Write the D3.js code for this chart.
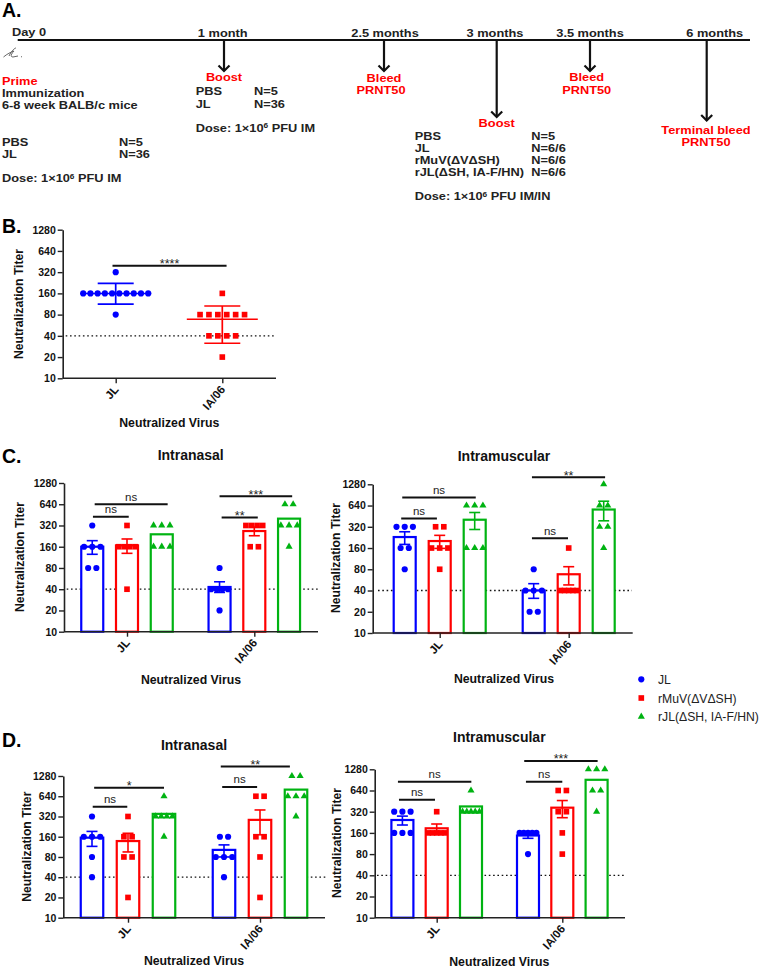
<!DOCTYPE html>
<html>
<head>
<meta charset="utf-8">
<script src="https://cdn.jsdelivr.net/npm/d3@7"></script>
<style>
    body { margin: 0; background: #fff; }
    text { font-family: "Liberation Sans", Arial, sans-serif; }
</style>
</head>
<body>
<svg id="fig" width="760" height="968"></svg>
<script>
// Shared labels
const viruses = ["JL", "IA/06"];
const seriesNames = ["JL", "rMuV(ΔVΔSH)", "rJL(ΔSH, IA-F/HN)"];
const titerTicks = [10, 20, 40, 80, 160, 320, 640, 1280];
const cutoff = 40;
const seriesColours = ["#0000ff", "#ff0000", "#00b312"];

// Panel B: individual titers, mean and SD per virus
const bPoints = [
    [320, 160, 160, 160, 160, 160, 160, 160, 160, 160, 160, 80],
    [160, 80, 80, 80, 80, 80, 80, 40, 40, 40, 40, 20]
];
const bMeans = [160, 69];
const bHigh = [222, 106];
const bLow = [113, 31.4];
const bSig = [{v: 0, a: -0.03, b: 1.04, level: 394, label: "****"}];

// Panels C and D: [virus][series] -> titers, and [virus][series] -> mean/SEM
const cnPoints = [
    [[320, 160, 160, 160, 80, 80], [320, 160, 160, 160, 160, 40], [320, 320, 320, 160, 160, 160]],
    [[80, 40, 40, 40, 40, 20], [320, 320, 320, 320, 160, 160], [640, 640, 320, 320, 320, 160]]
];
const cnMeans = [[160, 167, 240], [43, 267, 400]];
const cnHigh = [[195, 206, null], [51, 303, null]];
const cnLow = [[125, 129, null], [36, 229, null]];
const cnSig = [
    {v: 0, a: -0.93, b: 1.17, level: 640, label: "ns"},
    {v: 0, a: -0.98, b: 0.05, level: 426, label: "ns"},
    {v: 1, a: -1.0, b: 1.09, level: 830, label: "***"},
    {v: 1, a: -0.94, b: 0.1, level: 416, label: "**"}
];

const cmPoints = [
    [[320, 320, 320, 160, 160, 80], [320, 320, 160, 160, 160, 80], [640, 640, 640, 160, 160, 160]],
    [[80, 40, 40, 40, 20, 20], [160, 40, 40, 40, 40, 40], [1280, 640, 640, 320, 320, 160]]
];
const cmMeans = [[229, 201, 403], [40, 68, 562]];
const cmHigh = [[272, 242, 510], [50, 87, 737]];
const cmLow = [[180, 158, 293], [31, 48, 389]];
const cmSig = [
    {v: 0, a: -1.07, b: 1.03, level: 830, label: "ns"},
    {v: 0, a: -1.1, b: -0.08, level: 420, label: "ns"},
    {v: 1, a: -1.05, b: 1.04, level: 1610, label: "**"},
    {v: 1, a: -1.05, b: -0.02, level: 220, label: "ns"}
];

const dnPoints = [
    [[320, 160, 160, 160, 80, 40], [320, 160, 160, 80, 80, 20], [640, 320, 320, 320, 320, 160]],
    [[160, 160, 80, 80, 80, 40], [640, 640, 160, 160, 80, 20], [1280, 1280, 640, 640, 640, 320]]
];
const dnMeans = [[155, 138, 350], [102, 285, 803]];
const dnHigh = [[192, 180, null], [121, 400, null]];
const dnLow = [[115, 95, null], [80, 171, null]];
const dnSig = [
    {v: 0, a: -0.94, b: 1.0, level: 853, label: "*"},
    {v: 0, a: -0.98, b: -0.02, level: 446, label: "ns"},
    {v: 1, a: -1.09, b: 0.83, level: 1765, label: "**"},
    {v: 1, a: -1.05, b: -0.08, level: 882, label: "ns"}
];

const dmPoints = [
    [[320, 320, 320, 160, 160, 160], [320, 160, 160, 160, 160, 160], [640, 320, 320, 320, 320, 320]],
    [[160, 160, 160, 160, 160, 80], [640, 640, 320, 320, 160, 80], [1280, 1280, 1280, 640, 640, 320]]
];
const dmMeans = [[244, 186, 380], [147, 365, 908]];
const dmHigh = [[277, 214, null], [160, 461, null]];
const dmLow = [[207, 160, null], [134, 263, null]];
const dmSig = [
    {v: 0, a: -1.13, b: 1.01, level: 851, label: "ns"},
    {v: 0, a: -1.1, b: -0.05, level: 474, label: "ns"},
    {v: 1, a: -1.11, b: 1.03, level: 1680, label: "***"},
    {v: 1, a: -1.06, b: 0, level: 851, label: "ns"}
];

// Panel A timeline
const timeLabels = ["1 month", "2.5 months", "3 months", "3.5 months", "6 months"];

const svg = d3.select("#fig");
svg.append("rect").attr("width", 760).attr("height", 968).attr("fill", "#fff");

const markers = [
    d3.symbol().type(d3.symbolCircle).size(30)(),
    d3.symbol().type(d3.symbolSquare).size(32)(),
    d3.symbol().type(d3.symbolTriangle).size(22)()
];

/**
   Put a piece of text down
*/
function label(parent, x, y, str, opts = {}){
    return parent.append("text")
        .attr("x", x).attr("y", y)
        .attr("text-anchor", opts.anchor || "start")
        .attr("font-size", opts.size || 11)
        .attr("font-weight", opts.weight || "bold")
        .attr("fill", opts.colour || "#111")
        .text(str);
}

/**
   Draw the log2 axes, cutoff line, titles shared by all titer panels
*/
function frame(cfg){
    const g = svg.append("g");
    const y = d3.scaleLog().base(2).domain([10, 1280]).range([cfg.bottom, cfg.top]);
    const x = d3.scalePoint().domain(viruses).range(cfg.ticks);

    g.append("line")
        .attr("x1", cfg.dotted[0]).attr("x2", cfg.dotted[1])
        .attr("y1", y(cutoff)).attr("y2", y(cutoff))
        .attr("stroke", "#111").attr("stroke-width", 1.3)
        .attr("stroke-dasharray", "1.6 2.7");

    const marks = g.append("g");

    const yAxis = g.append("g")
        .attr("transform", `translate(${cfg.left},0)`)
        .call(d3.axisLeft(y).tickValues(titerTicks).tickFormat(d3.format("d")).tickSize(5).tickSizeOuter(0));
    const xAxis = g.append("g")
        .attr("transform", `translate(0,${cfg.bottom})`)
        .call(d3.axisBottom(x).tickSize(5).tickSizeOuter(0));
    xAxis.select(".domain").attr("d", `M${cfg.left},0H${cfg.right}`);

    g.selectAll(".domain").attr("stroke", "#222").attr("stroke-width", 1.6);
    g.selectAll(".tick line").attr("stroke", "#222").attr("stroke-width", 1.4);
    yAxis.selectAll("text")
        .attr("font-size", 10.5).attr("font-weight", "bold").attr("fill", "#111")
        .attr("font-family", "Liberation Sans").attr("dx", "0.1em");
    xAxis.selectAll("text")
        .attr("font-size", 11.5).attr("font-weight", "bold").attr("fill", "#111")
        .attr("font-family", "Liberation Sans")
        .attr("text-anchor", "end")
        .attr("dy", 0).attr("y", 0)
        .attr("transform", "translate(3,11.5) rotate(-50)");

    g.append("text")
        .attr("transform", `translate(${cfg.yLabel[0]},${cfg.yLabel[1]}) rotate(-90)`)
        .attr("text-anchor", "middle")
        .attr("font-size", 12.2).attr("font-weight", "bold").attr("fill", "#111")
        .text("Neutralization Titer");
    label(g, cfg.xLabel[0], cfg.xLabel[1], "Neutralized Virus", {anchor: "middle", size: 12.3});
    if (cfg.title){
        label(g, cfg.title[0], cfg.title[1], cfg.title[2], {anchor: "middle", size: 14});
    }
    return {marks, x, y};
}

/**
   Spread tied titers sideways around their column, as a prism scatter does
*/
function dodge(values, spacing, maxSpread){
    const rows = d3.groups(values, d => d);
    return rows.flatMap(([value, list]) => {
        const n = list.length;
        const gap = n > 1 ? Math.min(spacing, maxSpread / (n - 1)) : 0;
        return list.map((v, i) => ({value, dx: (i - (n - 1) / 2) * gap}));
    });
}

function whisker(parent, cx, y, high, low, capWidth, colour, width){
    if (high === null){ return; }
    const p = parent.append("g").attr("stroke", colour).attr("stroke-width", width).attr("fill", "none");
    p.append("line").attr("x1", cx).attr("x2", cx).attr("y1", y(high)).attr("y2", y(low));
    [high, low].forEach(v => {
        p.append("line")
            .attr("x1", cx - capWidth / 2).attr("x2", cx + capWidth / 2)
            .attr("y1", y(v)).attr("y2", y(v));
    });
}

function brackets(parent, sig, x, y, step){
    sig.forEach(s => {
        const cx = x(viruses[s.v]);
        const yy = y(s.level);
        parent.append("line")
            .attr("x1", cx + s.a * step).attr("x2", cx + s.b * step)
            .attr("y1", yy).attr("y2", yy)
            .attr("stroke", "#111").attr("stroke-width", 2);
        const isNs = s.label === "ns";
        label(parent, cx + (s.a + s.b) / 2 * step, isNs ? yy - 3.5 : yy + 2.5, s.label, {
            anchor: "middle", size: isNs ? 11.5 : 12.5, weight: "normal", colour: "#222"
        });
    });
}

function barPanel(cfg, points, means, high, low, sig){
    const {marks, x, y} = frame(cfg);
    const inner = d3.scalePoint().domain(seriesNames).range([-cfg.step, cfg.step]);

    viruses.forEach((virus, v) => {
        seriesNames.forEach((name, s) => {
            const cx = x(virus) + inner(name);
            marks.append("rect")
                .attr("x", cx - cfg.barWidth / 2).attr("width", cfg.barWidth)
                .attr("y", y(means[v][s])).attr("height", y(10) - y(means[v][s]))
                .attr("fill", "#fff")
                .attr("stroke", seriesColours[s]).attr("stroke-width", 2.2);
            marks.append("g").selectAll("path")
                .data(dodge(points[v][s], 8.2, 16.8))
                .join("path")
                .attr("d", markers[s])
                .attr("fill", seriesColours[s])
                .attr("transform", d => `translate(${cx + d.dx},${y(d.value)})`);
            whisker(marks, cx, y, high[v][s], low[v][s], 11, seriesColours[s], 1.6);
        });
    });
    brackets(marks, sig, x, y, cfg.step);
}

function scatterPanel(cfg){
    const {marks, x, y} = frame(cfg);
    viruses.forEach((virus, v) => {
        const cx = x(virus);
        marks.append("g").selectAll("path")
            .data(dodge(bPoints[v], 8.9, 65))
            .join("path")
            .attr("d", markers[v])
            .attr("fill", seriesColours[v])
            .attr("transform", d => `translate(${cx + d.dx},${y(d.value)})`);
        marks.append("line")
            .attr("x1", cx - 35.5).attr("x2", cx + 35.5)
            .attr("y1", y(bMeans[v])).attr("y2", y(bMeans[v]))
            .attr("stroke", seriesColours[v]).attr("stroke-width", 1.5);
        whisker(marks, cx, y, bHigh[v], bLow[v], 36, seriesColours[v], 1.7);
    });
    brackets(marks, bSig, x, y, 106.6);
}

// ---- Panel A ----
const timeX = d3.scaleOrdinal(timeLabels, [224, 384, 496.7, 590, 706.7]);
const arrowEnd = d3.scaleOrdinal(timeLabels, [71, 71, 117, 71, 120.5]);
const timeLabelX = d3.scaleOrdinal(timeLabels, [222.7, 385, 495, 590, 714.7]);
const a = svg.append("g");
const WIDE = 1.28;

function wide(x, y, str, opts = {}){
    const t = a.append("text")
        .attr("transform", `translate(${x},${y}) scale(${WIDE},1)`)
        .attr("text-anchor", opts.anchor || "start")
        .attr("font-size", opts.size || 10)
        .attr("font-weight", "bold")
        .attr("fill", opts.colour || "#222");
    if (opts.sup){
        t.append("tspan").text(str);
        t.append("tspan").attr("font-size", 6.5).attr("dy", -3.5).text(opts.sup);
        t.append("tspan").attr("dy", 3.5).text(opts.rest);
    } else {
        t.text(str);
    }
    return t;
}

label(a, 2, 17, "A.", {size: 19.5, colour: "#000"});
a.append("line").attr("x1", 17.7).attr("x2", 750).attr("y1", 40).attr("y2", 40)
    .attr("stroke", "#111").attr("stroke-width", 2);

timeLabels.forEach(t => {
    const x = timeX(t), end = arrowEnd(t);
    a.append("line").attr("x1", x).attr("x2", x).attr("y1", 40).attr("y2", end)
        .attr("stroke", "#111").attr("stroke-width", 2.2);
    a.append("path").attr("d", `M${x - 5.5},${end - 5.5}L${x},${end}L${x + 5.5},${end - 5.5}`)
        .attr("fill", "none").attr("stroke", "#111").attr("stroke-width", 2.2);
    wide(timeLabelX(t), 37, t, {anchor: "middle"});
});
wide(12, 36, "Day 0");

// little mouse doodle below day 0
a.append("path")
    .attr("d", "M3.5,57 C7,54 11,52 14,51 C11,54 10,57 13,57 L18,56 M9,56 C12,50 15,48 16,48 M21,56.5 L22,57")
    .attr("fill", "none").attr("stroke", "#666").attr("stroke-width", 1);

const RED = "#ff0000";
wide(2, 85, "Prime", {colour: RED});
wide(2, 97, "Immunization");
wide(2, 109.3, "6-8 week BALB/c mice");
wide(2, 145.7, "PBS");
wide(119, 145.7, "N=5");
wide(2, 157.7, "JL");
wide(119, 157.7, "N=36");
wide(2, 182.3, "Dose: 1×10", {sup: "6", rest: " PFU IM"});

wide(224, 81, "Boost", {anchor: "middle", colour: RED});
wide(195.7, 95.3, "PBS");
wide(254, 95.3, "N=5");
wide(195.7, 107.7, "JL");
wide(254, 107.7, "N=36");
wide(195.7, 131.7, "Dose: 1×10", {sup: "6", rest: " PFU IM"});

wide(384, 82, "Bleed", {anchor: "middle", colour: RED});
wide(381, 94, "PRNT50", {anchor: "middle", colour: RED});

wide(496.7, 127, "Boost", {anchor: "middle", colour: RED});
wide(414.7, 139.7, "PBS");
wide(531.3, 139.7, "N=5");
wide(414.7, 152, "JL");
wide(531.3, 152, "N=6/6");
wide(414.7, 164, "rMuV(ΔVΔSH)");
wide(531.3, 164, "N=6/6");
wide(414.7, 176, "rJL(ΔSH, IA-F/HN)");
wide(531.3, 176, "N=6/6");
wide(414.7, 200.3, "Dose: 1×10", {sup: "6", rest: " PFU IM/IN"});

wide(586.7, 81.3, "Bleed", {anchor: "middle", colour: RED});
wide(586.7, 93.7, "PRNT50", {anchor: "middle", colour: RED});
wide(706, 134, "Terminal bleed", {anchor: "middle", colour: RED});
wide(706, 145.7, "PRNT50", {anchor: "middle", colour: RED});

// ---- Panel letters ----
label(svg, 2, 233, "B.", {size: 19.5, colour: "#000"});
label(svg, 2, 463, "C.", {size: 19.5, colour: "#000"});
label(svg, 2, 746.7, "D.", {size: 19.5, colour: "#000"});

// ---- Titer panels ----
scatterPanel({
    top: 229.7, bottom: 378.3, left: 62.7, right: 276, ticks: [115.7, 222.3],
    dotted: [65.7, 274], yLabel: [23, 304], xLabel: [169.3, 426.7]
});
barPanel({
    top: 483, bottom: 631.7, left: 64, right: 318, ticks: [127, 254.3], step: 34.75, barWidth: 22,
    dotted: [66.7, 318], yLabel: [24, 557], xLabel: [191, 684], title: [190.7, 459.7, "Intranasal"]
}, cnPoints, cnMeans, cnHigh, cnLow, cnSig);
barPanel({
    top: 484.3, bottom: 633, left: 372.7, right: 632.7, ticks: [439.7, 568.7], step: 35, barWidth: 22,
    dotted: [378, 632], yLabel: [340, 558], xLabel: [504, 683], title: [504, 460.7, "Intramuscular"]
}, cmPoints, cmMeans, cmHigh, cmLow, cmSig);
barPanel({
    top: 776, bottom: 917.7, left: 63.3, right: 325, ticks: [128, 260], step: 36, barWidth: 22.5,
    dotted: [65.7, 327], yLabel: [31, 846.7], xLabel: [194, 965], title: [194, 749.7, "Intranasal"]
}, dnPoints, dnMeans, dnHigh, dnLow, dnSig);
barPanel({
    top: 769.3, bottom: 917.7, left: 374.7, right: 625, ticks: [436.7, 562.3], step: 34.3, barWidth: 22,
    dotted: [377, 625], yLabel: [341, 843], xLabel: [499.3, 965.7], title: [499.3, 741.7, "Intramuscular"]
}, dmPoints, dmMeans, dmHigh, dmLow, dmSig);

// ---- Legend ----
const legendY = d3.scalePoint().domain(seriesNames).range([679.3, 716.7]);
seriesNames.forEach((name, s) => {
    svg.append("path").attr("d", markers[s]).attr("fill", seriesColours[s])
        .attr("transform", `translate(641.3,${legendY(name)})`);
    label(svg, 658, legendY(name) + 4.5, name, {size: 12.2, weight: "normal", colour: "#222"});
});
</script>
</body>
</html>
